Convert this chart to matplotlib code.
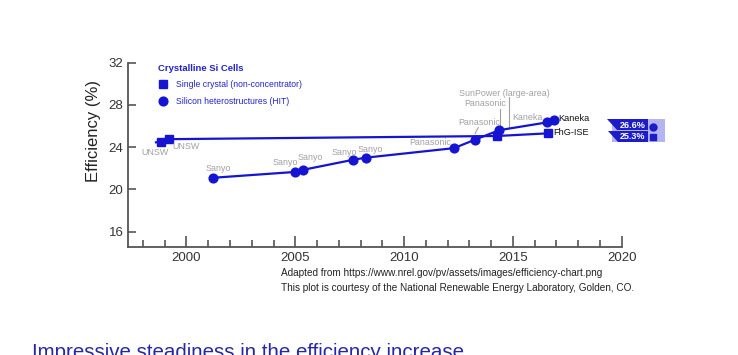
import matplotlib
matplotlib.use("Agg")
import matplotlib.pyplot as plt
from matplotlib.patches import Polygon, Rectangle
from matplotlib.lines import Line2D

plt.rcParams['font.family'] = ['Liberation Sans', 'DejaVu Sans']

# ---- data ----
sc_years = [1998.6, 1998.85, 1999.2, 2014.28, 2016.6]
sc_eff = [24.45, 24.5, 24.75, 25.05, 25.3]
hit_years = [2001.24, 2004.99, 2005.36, 2007.66, 2008.24, 2012.29, 2013.26, 2014.37, 2016.55, 2016.87]
hit_eff = [21.1, 21.65, 21.85, 22.8, 23.0, 23.9, 24.7, 25.6, 26.33, 26.6]

gray_labels = ["UNSW", "UNSW", "Sanyo", "Sanyo", "Sanyo", "Sanyo", "Sanyo",
               "Panasonic", "Panasonic", "Panasonic", "SunPower (large-area)", "Kaneka"]
gray_x = [1998.54, 1999.97, 2001.44, 2004.52, 2005.71, 2007.23, 2008.43,
          2011.21, 2013.46, 2013.71, 2014.63, 2015.69]
gray_y = [23.5, 24.05, 21.98, 22.51, 22.98, 23.49, 23.80,
          24.43, 26.32, 28.11, 29.06, 26.79]

record_labels = ["Kaneka", "FhG-ISE"]
record_x = [2017.1, 2016.84]
record_y = [26.7, 25.38]
badge_texts = ["26.6%", "25.3%"]

yticks = [16, 20, 24, 28, 32]
xticks = [2000, 2005, 2010, 2015, 2020]

BLUE = "#1414d2"
LBLUE = "#2323c8"
GRAY = "#a0a0a0"
DARK = "#333333"

W, H = 738, 355
fig = plt.figure(figsize=(W / 100, H / 100), dpi=100)
ax = fig.add_axes([127.7 / W, 1 - 246.7 / H, (621.7 - 127.7) / W, (246.7 - 62.5) / H])
ax.set_xlim(1997.3, 2020)
ax.set_ylim(14.58, 32)

ax.plot(sc_years, sc_eff, color=BLUE, lw=1.6, marker='s', ms=5.5, markevery=[1, 2, 3, 4],
        label="Single crystal (non-concentrator)", zorder=3)
ax.plot(hit_years, hit_eff, color=BLUE, lw=1.6, marker='o', ms=6.3,
        label="Silicon heterostructures (HIT)", zorder=3)

for t, x, y in zip(gray_labels, gray_x, gray_y):
    ax.text(x, y, t, color=GRAY, fontsize=6.4, ha='center', va='center')
for t, x, y in zip(record_labels, record_x, record_y):
    ax.text(x, y, t, color='#111111', fontsize=6.6, ha='left', va='center')

# connector lines (gray)
ax.plot([2014.82, 2014.82], [28.72, 25.9], color=GRAY, lw=0.8, zorder=2)
ax.plot([2014.41, 2014.41], [27.64, 25.9], color=GRAY, lw=0.8, zorder=2)
ax.plot([2013.41, 2013.26], [25.85, 25.28], color=GRAY, lw=0.8, zorder=2)

# axes styling
for s in ['top', 'right']:
    ax.spines[s].set_visible(False)
for s in ['left', 'bottom']:
    ax.spines[s].set_color('#555555')
    ax.spines[s].set_linewidth(1.3)
ax.set_yticks(yticks)
ax.set_xticks(xticks)
ax.set_xticks(range(1998, 2020), minor=True)
ax.tick_params(axis='both', which='major', direction='in', color='#555555', width=1.2,
               labelcolor=DARK, labelsize=9.5)
ax.tick_params(axis='x', which='major', length=8, pad=4)
ax.tick_params(axis='y', which='major', length=6, pad=3)
ax.tick_params(axis='x', which='minor', direction='in', length=5, width=1.2, color='#555555')
ax.set_ylabel("Efficiency (%)", fontsize=12, color='#222222')
ax.yaxis.set_label_coords(-0.054, 0.628)

leg = ax.legend(loc='upper left', bbox_to_anchor=(0.055, 1.013), frameon=False, fontsize=6.2,
                title="Crystalline Si Cells", handlelength=1.0, handletextpad=1.0,
                labelspacing=0.9, borderaxespad=0)
leg.get_title().set_fontweight('bold')
leg.get_title().set_color(LBLUE)
leg.get_title().set_fontsize(6.8)
leg._legend_box.align = "left"
for t in leg.get_texts():
    t.set_color(LBLUE)
for h in leg.legend_handles:
    h.set_linestyle('none')

# badge (figure pixel coordinates)
def fx(px):
    return px / W

def fy(py):
    return 1 - py / H

fig.patches.append(Rectangle((fx(612), fy(142)), fx(665) - fx(612), fy(119) - fy(142),
                             transform=fig.transFigure, facecolor='#b4b4f2', edgecolor='none'))
tag1 = [(606.5, 119), (648, 119), (648, 130.5), (617, 130.5)]
tag2 = [(608, 131), (648, 131), (648, 142), (618, 142)]
for tag in (tag1, tag2):
    fig.patches.append(Polygon([(fx(a), fy(b)) for a, b in tag], closed=True,
                               transform=fig.transFigure, facecolor='#1c1cc8', edgecolor='none'))
fig.text(fx(633), fy(125), badge_texts[0], color='white', fontsize=6.5, fontweight='bold',
         ha='center', va='center')
fig.text(fx(633), fy(136.6), badge_texts[1], color='white', fontsize=6.5, fontweight='bold',
         ha='center', va='center')
fig.lines.append(Line2D([fx(653)], [fy(127)], transform=fig.transFigure, marker='o', ms=5,
                        color='#1c1cc8', ls='none'))
fig.lines.append(Line2D([fx(653)], [fy(137.5)], transform=fig.transFigure, marker='s', ms=4.5,
                        color='#1c1cc8', ls='none'))

fig.text(fx(281), fy(273), "Adapted from https://www.nrel.gov/pv/assets/images/efficiency-chart.png",
         fontsize=7.2, color='#222222', ha='left', va='center')
fig.text(fx(281), fy(288), "This plot is courtesy of the National Renewable Energy Laboratory, Golden, CO.",
         fontsize=7.2, color='#222222', ha='left', va='center')

fig.text(fx(32), fy(343), "Impressive steadiness in the efficiency increase",
         fontsize=14.8, color='#2626a8', ha='left', va='top')

fig.savefig("out.png", dpi=100, facecolor='white')
